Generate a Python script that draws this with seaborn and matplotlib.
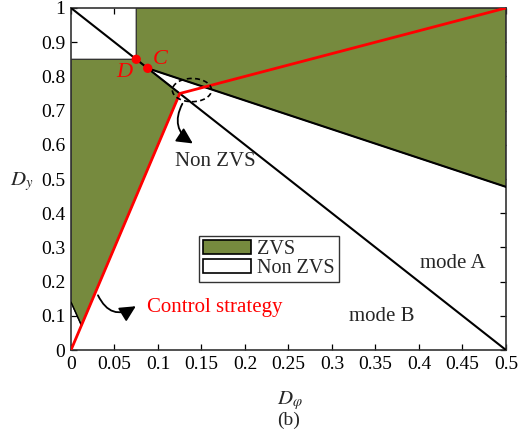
import matplotlib
matplotlib.use("Agg")
import matplotlib.pyplot as plt
import seaborn as sns
import pandas as pd
from matplotlib.patches import Polygon, Patch, Ellipse

# Region boundaries in the (D_phi, D_y) plane
diag_x = [0.0, 0.5]
diag_y = [1.0, 0.0]
upper_x = [0.0882, 0.5]
upper_y = [0.8236, 0.477]
corner_x = [0.0, 0.012]
corner_y = [0.14, 0.072]
strategy_x = [0.0, 0.125, 0.5]
strategy_y = [0.0, 0.75, 1.0]
point_names = ["D", "C"]
point_x = [0.075, 0.0882]
point_y = [0.85, 0.8236]
x_ticks = [0, 0.05, 0.1, 0.15, 0.2, 0.25, 0.3, 0.35, 0.4, 0.45, 0.5]
y_ticks = [0, 0.1, 0.2, 0.3, 0.4, 0.5, 0.6, 0.7, 0.8, 0.9, 1]

green = "#768A3E"

sns.set_theme(style="ticks")
plt.rcParams["font.family"] = ["Liberation Serif", "DejaVu Serif"]
plt.rcParams["mathtext.fontset"] = "stix"

fig = plt.figure(figsize=(5.24, 4.34), dpi=100)
ax = fig.add_axes([0.1355, 0.1935, 0.8301, 0.7881])

# ZVS areas
upper_zone = [(point_x[0], 1.0), (0.5, 1.0), (upper_x[1], upper_y[1]),
              (upper_x[0], upper_y[0]), (point_x[0], point_y[0])]
left_zone = [(0.0, 0.85), (point_x[0], point_y[0]),
             (strategy_x[1], strategy_y[1]), (corner_x[1], corner_y[1]),
             (corner_x[0], corner_y[0])]
for poly in (upper_zone, left_zone):
    ax.add_patch(Polygon(poly, closed=True, facecolor=green,
                         edgecolor="#2b2b2b", linewidth=0.9, zorder=1))

# Mode boundaries
sns.lineplot(x=diag_x, y=diag_y, ax=ax, color="black", lw=1.5, zorder=3)
sns.lineplot(x=upper_x, y=upper_y, ax=ax, color="black", lw=1.5, zorder=3)
sns.lineplot(x=corner_x, y=corner_y, ax=ax, color="black", lw=1.0, zorder=3)

# Control strategy trajectory
strategy = pd.DataFrame({"x": strategy_x, "y": strategy_y})
sns.lineplot(data=strategy, x="x", y="y", sort=False, ax=ax,
             color="#ff0000", lw=2.0, zorder=4)

pts = pd.DataFrame({"x": point_x, "y": point_y, "name": point_names})
sns.scatterplot(data=pts, x="x", y="y", ax=ax, color="#ff0000", s=45,
                edgecolor="none", zorder=5, legend=False)
ax.text(0.102, 0.850, "C", color="#ff0000", fontsize=16, style="italic",
        ha="center", va="center")
ax.text(0.061, 0.812, "D", color="#ff0000", fontsize=16, style="italic",
        ha="center", va="center")

# Highlighted non-ZVS pocket
ax.add_patch(Ellipse((0.139, 0.760), 0.045, 0.068, fill=False,
                     edgecolor="black", lw=1.2, ls=(0, (3, 2)), zorder=6))
arrow_style = dict(arrowstyle="-|>", mutation_scale=24, color="black",
                   lw=1.3, shrinkA=0, shrinkB=0)
ax.annotate("", xy=(0.140, 0.604), xytext=(0.128, 0.72),
            arrowprops=dict(connectionstyle="arc3,rad=0.45", **arrow_style),
            zorder=6)
ax.text(0.119, 0.55, "Non ZVS", fontsize=15, ha="left", va="center")

ax.annotate("", xy=(0.0745, 0.128), xytext=(0.031, 0.16),
            arrowprops=dict(connectionstyle="arc3,rad=0.55", **arrow_style),
            zorder=6)
ax.text(0.087, 0.123, "Control strategy", color="#ff0000", fontsize=15,
        ha="left", va="center")

ax.text(0.401, 0.254, "mode A", fontsize=15, ha="left", va="center")
ax.text(0.320, 0.097, "mode B", fontsize=15, ha="left", va="center")

# Legend
handles = [Patch(facecolor=green, edgecolor="black", lw=1.2, label="ZVS"),
           Patch(facecolor="white", edgecolor="black", lw=1.2, label="Non ZVS")]
leg = ax.legend(handles=handles, loc="upper left", bbox_to_anchor=(0.294, 0.333),
                borderaxespad=0, frameon=True, fancybox=False, fontsize=14.5,
                handlelength=2.4, handleheight=0.7, labelspacing=0.0,
                borderpad=0.2, handletextpad=0.3)
leg.get_frame().set_edgecolor("black")
leg.get_frame().set_linewidth(1.0)

ax.set_xlim(0, 0.5)
ax.set_ylim(0, 1)
ax.set_xticks(x_ticks)
ax.set_yticks(y_ticks)
ax.set_xticklabels([f"{v:g}" for v in x_ticks])
ax.set_yticklabels([f"{v:g}" for v in y_ticks])
ax.tick_params(direction="in", top=True, right=True, length=4, width=0.9,
               labelsize=14, colors="black", pad=4)
for s in ax.spines.values():
    s.set_visible(True)
    s.set_color("#333333")
    s.set_linewidth(1.2)

ax.set_xlabel("")
ax.set_ylabel("")
fig.text(22 / 524, 1 - 182 / 434, r"$D_y$", fontsize=15, ha="center", va="center")
fig.text(290 / 524, 1 - 401 / 434, r"$D_\varphi$", fontsize=15, ha="center", va="center")
fig.text(289 / 524, 1 - 420 / 434, "(b)", fontsize=14, ha="center", va="center")

fig.savefig("out.png", dpi=100)
